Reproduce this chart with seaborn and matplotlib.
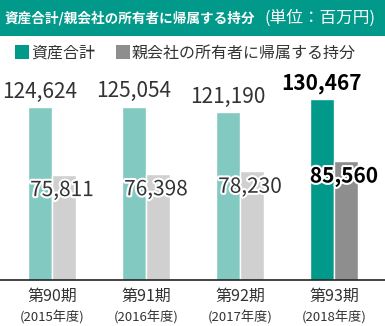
import matplotlib
matplotlib.use("Agg")
import matplotlib.pyplot as plt
import matplotlib.patheffects as pe
from matplotlib.patches import Rectangle, Patch
import seaborn as sns
import pandas as pd

periods = ["第90期", "第91期", "第92期", "第93期"]
years = ["(2015年度)", "(2016年度)", "(2017年度)", "(2018年度)"]
total_assets = [124624, 125054, 121190, 130467]
owners_equity = [75811, 76398, 78230, 85560]
series_names = ["資産合計", "親会社の所有者に帰属する持分"]
title_main = "資産合計/親会社の所有者に帰属する持分"
title_unit = "(単位：百万円)"

TEAL = "#00998a"
TEAL_L = "#82c9c1"
GRAY = "#8e8e8e"
GRAY_L = "#d0d0d0"
TXT = "#333333"

sns.set_theme(style="white")
plt.rcParams["font.family"] = ["Noto Sans CJK JP", "DejaVu Sans"]

df = pd.DataFrame({
    "period": periods * 2,
    "series": [series_names[0]] * 4 + [series_names[1]] * 4,
    "value": total_assets + owners_equity,
})

W, H = 385, 326
fig = plt.figure(figsize=(W / 100, H / 100), dpi=100)
ax = fig.add_axes([0, 46 / H, 1, (280 - 40) / H])

sns.barplot(data=df, x="period", y="value", hue="series", order=periods,
            hue_order=series_names, palette=[TEAL, GRAY], width=0.51,
            saturation=1, legend=False, ax=ax)

ax.set_ylim(0, 173000)
ax.set_xlim(-0.553, 3.543)
for s in ["top", "left", "right"]:
    ax.spines[s].set_visible(False)
ax.spines["bottom"].set_color("#222222")
ax.spines["bottom"].set_linewidth(1.2)
ax.set_yticks([])
ax.set_ylabel("")
ax.set_xlabel("")
ax.tick_params(axis="x", length=0, pad=6, labelsize=11.5, labelcolor=TXT)

c_teal, c_gray = ax.containers[0], ax.containers[1]
for i in range(3):
    c_teal[i].set_facecolor(TEAL_L)
    c_gray[i].set_facecolor(GRAY_L)

for i, bar in enumerate(c_teal):
    last = i == 3
    ax.annotate(f"{total_assets[i]:,}", (bar.get_x() + bar.get_width() / 2, bar.get_height()),
                xytext=(0, 11), textcoords="offset points", ha="center", va="center",
                fontsize=15, color="black" if last else TXT,
                fontweight="bold" if last else "normal")
for i, bar in enumerate(c_gray):
    last = i == 3
    ax.annotate(f"{owners_equity[i]:,}", (bar.get_x() + bar.get_width() / 2 - 0.02, bar.get_height()),
                xytext=(0, -11), textcoords="offset points", ha="center", va="center",
                fontsize=15, color="black" if last else TXT,
                fontweight="bold" if last else "normal",
                path_effects=[pe.withStroke(linewidth=3, foreground="white")])

# year line under tick labels
for i, y in enumerate(years):
    ax.annotate(y, (i, 0), xycoords=("data", "axes fraction"), xytext=(0, -27),
                textcoords="offset points", ha="center", va="center",
                fontsize=9.5, color=TXT)

# title banner
fig.patches.append(Rectangle((0, 1 - 36 / H), 1, 36 / H, transform=fig.transFigure,
                             facecolor=TEAL, edgecolor="none", zorder=0))
fig.text(5 / W, 1 - 18 / H, title_main, ha="left", va="center", fontsize=9.8,
         fontweight="bold", color="white")
fig.text(376 / W, 1 - 18 / H, title_unit, ha="right", va="center", fontsize=12,
         color="white")

handles = [Patch(facecolor=TEAL, edgecolor="none"), Patch(facecolor=GRAY, edgecolor="none")]
fig.legend(handles, series_names, loc="center left", bbox_to_anchor=(15 / W, 1 - 53 / H),
           ncol=2, frameon=False, fontsize=11.5, handlelength=0.9, handleheight=0.9,
           handletextpad=0.1, columnspacing=1.3, borderpad=0, borderaxespad=0,
           labelcolor=TXT)

fig.savefig("out.png", dpi=100)
